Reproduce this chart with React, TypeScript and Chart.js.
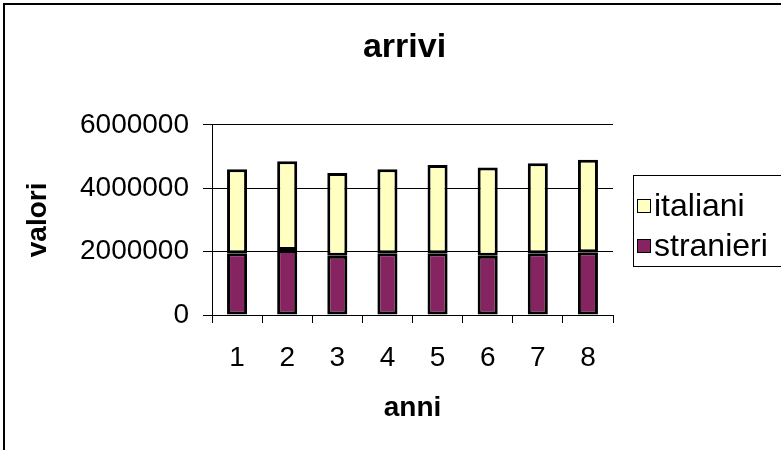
import React, { useEffect, useRef } from "react";
import { Chart, registerables } from "chart.js";

Chart.register(...registerables);

const categories = ["1", "2", "3", "4", "5", "6", "7", "8"];
const stranieri = [1950000, 2050000, 1870000, 1950000, 1950000, 1870000, 1950000, 1980000];
const italiani = [2650000, 2800000, 2610000, 2650000, 2780000, 2780000, 2840000, 2920000];
const yTicks = [0, 2000000, 4000000, 6000000];

const FONT = "'Liberation Sans', Arial, sans-serif";

const boxLegend = {
  id: "boxLegend",
  afterDraw(chart: any) {
    const ctx = chart.ctx;
    const area = chart.chartArea;
    const left = area.right + 20;
    const top = 175;
    ctx.save();
    ctx.strokeStyle = "#000";
    ctx.lineWidth = 1;
    ctx.strokeRect(left + 0.5, top + 0.5, 200, 91);
    const ds = chart.data.datasets.slice().reverse();
    ctx.font = "32px " + FONT;
    ctx.textBaseline = "middle";
    ds.forEach((d: any, i: number) => {
      const cy = top + 31 + i * 40;
      ctx.fillStyle = d.backgroundColor;
      ctx.fillRect(left + 4, cy - 7, 14, 14);
      ctx.strokeStyle = "#000";
      ctx.lineWidth = 1;
      ctx.strokeRect(left + 4.5, cy - 6.5, 13, 13);
      ctx.fillStyle = "#000";
      ctx.fillText(d.label, left + 21, cy + 1);
    });
    ctx.restore();
  },
};

export default function App() {
  const ref = useRef<HTMLCanvasElement>(null);
  useEffect(() => {
    if (!ref.current) return;
    const chart = new Chart(ref.current, {
      type: "bar",
      data: {
        labels: categories,
        datasets: [
          {
            label: "stranieri",
            data: stranieri,
            backgroundColor: "#862462",
            borderColor: "#000",
            borderWidth: 3,
            borderSkipped: false,
            categoryPercentage: 1,
            barPercentage: 0.4,
          },
          {
            label: "italiani",
            data: italiani,
            backgroundColor: "#FFFFC0",
            borderColor: "#000",
            borderWidth: 3,
            borderSkipped: false,
            categoryPercentage: 1,
            barPercentage: 0.4,
          },
        ],
      },
      options: {
        animation: false,
        responsive: false,
        layout: { padding: { left: 28, top: 0, right: 0, bottom: 0 } },
        plugins: {
          legend: { display: false },
          tooltip: { enabled: false },
          title: {
            display: true,
            text: "arrivi",
            color: "#000",
            font: { family: FONT, size: 34, weight: "bold" },
            padding: { top: 27, bottom: 57 },
          },
        },
        scales: {
          x: {
            stacked: true,
            offset: true,
            grid: { display: true, drawOnChartArea: false, color: "#000", tickLength: 8, offset: true },
            border: { display: true, color: "#000", width: 1 },
            ticks: { color: "#000", font: { family: FONT, size: 28 }, padding: 18, maxRotation: 0 },
            title: {
              display: true,
              text: "anni",
              color: "#000",
              font: { family: FONT, size: 28, weight: "bold" },
              padding: { top: 0, bottom: 25 },
            },
            afterFit: (s: any) => {
              s.height = 135;
            },
          } as any,
          y: {
            stacked: true,
            min: 0,
            max: 6000000,
            afterBuildTicks: (s: any) => {
              s.ticks = yTicks.map((v) => ({ value: v }));
            },
            grid: { color: "#000", tickLength: 9, drawTicks: true },
            border: { display: true, color: "#000", width: 1 },
            ticks: {
              color: "#000",
              font: { family: FONT, size: 28 },
              padding: 14,
              callback: (v: any) => String(v),
            },
            title: {
              display: true,
              text: "valori",
              color: "#000",
              font: { family: FONT, size: 28, weight: "bold" },
              padding: { top: -7, bottom: 0 },
            },
            afterFit: (s: any) => {
              s.width = 184;
            },
          } as any,
          side: {
            type: "linear",
            position: "right",
            display: true,
            grid: { display: false },
            border: { display: false },
            ticks: { display: false },
            afterFit: (s: any) => {
              s.width = 168;
            },
          } as any,
        },
      },
      plugins: [boxLegend],
    });
    return () => chart.destroy();
  }, []);
  return (
    <div style={{ position: "fixed", left: 0, top: 0, width: 781, height: 450, overflow: "hidden", background: "#fff" }}>
      <div
        style={{
          position: "absolute",
          left: 3,
          top: 3,
          width: 820,
          height: 480,
          border: "2px solid #000",
          boxSizing: "border-box",
        }}
      />
      <canvas ref={ref} width={781} height={450} style={{ position: "absolute", left: 0, top: 0, width: 781, height: 450 }} />
    </div>
  );
}
